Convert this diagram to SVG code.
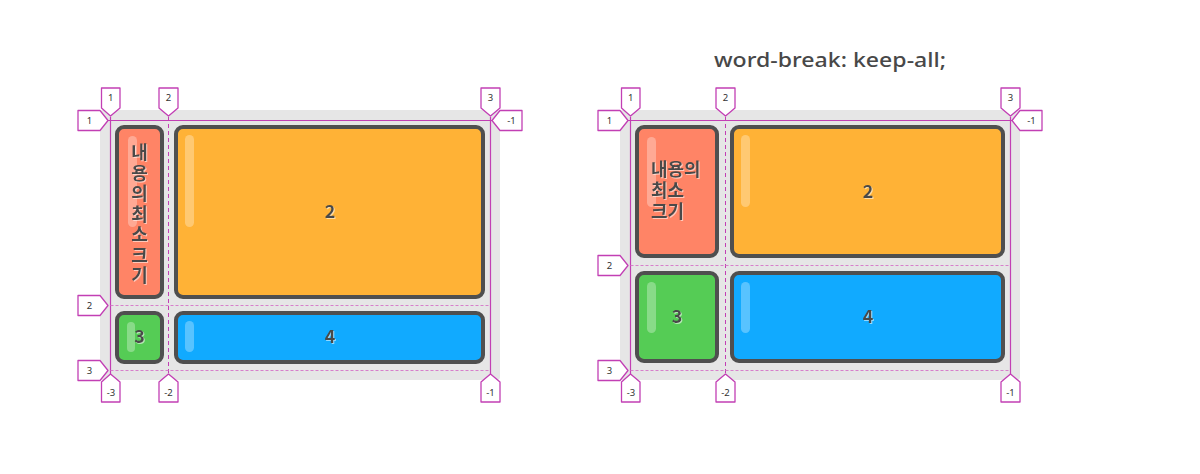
<svg xmlns="http://www.w3.org/2000/svg" width="1200" height="474" viewBox="0 0 1200 474">
<style>
.bg{fill:#e6e6e6}
.item{stroke:#4f4f4f;stroke-width:4}
.c1{fill:#ff8466}.c2{fill:#ffb236}.c3{fill:#55cc55}.c4{fill:#11aaff}
.bar{fill:#ffffff;opacity:0.3}
.solid{stroke:#c23fb4;stroke-width:1.2;fill:none}
.vdash{stroke:#c23fb4;stroke-width:1;stroke-dasharray:4 3;fill:none}
.hdash{stroke:#d77fcb;stroke-width:1;stroke-dasharray:3 2;fill:none}
.tag{fill:#ffffff;stroke:#c23fb4;stroke-width:1.3;stroke-linejoin:round}
.tt{font-family:"Noto Sans","DejaVu Sans",sans-serif;font-size:9.5px;fill:#333;text-anchor:middle}
.lbl{font-family:"Noto Sans CJK KR","Noto Sans",sans-serif;font-weight:700;font-size:18px;fill:#4a4a4a;filter:url(#sh)}
.num{text-anchor:middle}
.title{font-family:"Noto Sans","Noto Sans CJK KR",sans-serif;font-weight:500;font-size:19px;fill:#484848}
</style>
<defs>
<filter id="sh" x="-20%" y="-20%" width="140%" height="140%">
<feDropShadow dx="1" dy="1" stdDeviation="0.3" flood-color="#ffffff" flood-opacity="0.55"/>
</filter>
</defs>

<text class="title" x="714" y="67" textLength="232" lengthAdjust="spacingAndGlyphs">word-break: keep-all;</text>

<!-- Left diagram -->
<g id="left-grid">
<rect class="bg" x="100" y="110" width="400" height="270" rx="3"/>
<g id="left-item1">
<rect class="item c1" x="117" y="127" width="45" height="170" rx="7"/>
<rect class="bar" x="128" y="136" width="9" height="91" rx="4.5"/>
<text class="lbl num" x="139.5"><tspan x="139.5" y="159">내</tspan><tspan x="139.5" y="179.5">용</tspan><tspan x="139.5" y="200">의</tspan><tspan x="139.5" y="220.5">최</tspan><tspan x="139.5" y="241">소</tspan><tspan x="139.5" y="261.5">크</tspan><tspan x="139.5" y="282">기</tspan></text>
</g>
<g id="left-item2">
<rect class="item c2" x="176" y="127" width="307" height="170" rx="7"/>
<rect class="bar" x="185" y="135" width="9" height="92" rx="4.5"/>
<text class="lbl num" x="330" y="218">2</text>
</g>
<g id="left-item3">
<rect class="item c3" x="117" y="313" width="45" height="49" rx="7"/>
<rect class="bar" x="127" y="322" width="8" height="30" rx="4"/>
<text class="lbl num" x="139.5" y="343">3</text>
</g>
<g id="left-item4">
<rect class="item c4" x="176" y="313" width="307" height="49" rx="7"/>
<rect class="bar" x="185" y="321" width="9" height="31" rx="4.5"/>
<text class="lbl num" x="330" y="343">4</text>
</g>
</g>

<!-- Right diagram -->
<g id="right-grid">
<rect class="bg" x="620" y="110" width="400" height="270" rx="3"/>
<g id="right-item1">
<rect class="item c1" x="637" y="127" width="80" height="129" rx="7"/>
<rect class="bar" x="647" y="137" width="9" height="70" rx="4.5"/>
<text class="lbl" x="651"><tspan x="651" y="176">내용의</tspan><tspan x="651" y="197">최소</tspan><tspan x="651" y="218">크기</tspan></text>
</g>
<g id="right-item2">
<rect class="item c2" x="732" y="127" width="271" height="129" rx="7"/>
<rect class="bar" x="741" y="135" width="9" height="72" rx="4.5"/>
<text class="lbl num" x="868" y="198">2</text>
</g>
<g id="right-item3">
<rect class="item c3" x="637" y="273" width="80" height="88" rx="7"/>
<rect class="bar" x="647" y="282" width="9" height="51" rx="4.5"/>
<text class="lbl num" x="677" y="323">3</text>
</g>
<g id="right-item4">
<rect class="item c4" x="732" y="273" width="271" height="88" rx="7"/>
<rect class="bar" x="741" y="282" width="9" height="51" rx="4.5"/>
<text class="lbl num" x="868" y="323">4</text>
</g>
</g>

<!-- Grid lines (connectors) -->
<g id="connectors">
<path class="solid" d="M110.5,117 V374 M108,120.5 H493 M490.5,117 V374"/>
<path class="vdash" d="M168.5,117 V374"/>
<path class="hdash" d="M110.5,305.5 H490.5 M110.5,370.5 H490.5"/>
<path class="solid" d="M630.5,117 V374 M628,120.5 H1013 M1010.5,117 V374"/>
<path class="vdash" d="M725.5,117 V374"/>
<path class="hdash" d="M630.5,265.5 H1010.5 M630.5,370.5 H1010.5"/>
</g>

<!-- Left tags -->
<g id="left-tags">
<g id="lt-top1"><path class="tag" d="M101.5,88 H120 V108 L110.5,116 L101.5,108 Z"/><text class="tt" x="110.8" y="101">1</text></g>
<g id="lt-top2"><path class="tag" d="M159,88 H178 V108 L168.5,116 L159,108 Z"/><text class="tt" x="168.5" y="101">2</text></g>
<g id="lt-top3"><path class="tag" d="M481,88 H500 V108 L490.5,116 L481,108 Z"/><text class="tt" x="490.5" y="101">3</text></g>
<g id="lt-right1"><path class="tag" d="M522,110.5 H500 L492,120.5 L500,130.5 H522 Z"/><text class="tt" x="511.5" y="124">-1</text></g>
<g id="lt-left1"><path class="tag" d="M78,110.5 H100 L108,120.5 L100,130.5 H78 Z"/><text class="tt" x="89.5" y="124">1</text></g>
<g id="lt-left2"><path class="tag" d="M78,295.5 H100 L108,305.5 L100,315.5 H78 Z"/><text class="tt" x="89.5" y="309">2</text></g>
<g id="lt-left3"><path class="tag" d="M78,360.5 H100 L108,370.5 L100,380.5 H78 Z"/><text class="tt" x="89.5" y="374">3</text></g>
<g id="lt-bot3"><path class="tag" d="M110.5,374 L120,382 V402 H101.5 V382 Z"/><text class="tt" x="111" y="395.5">-3</text></g>
<g id="lt-bot2"><path class="tag" d="M168.5,374 L178,382 V402 H159 V382 Z"/><text class="tt" x="168.5" y="395.5">-2</text></g>
<g id="lt-bot1"><path class="tag" d="M490.5,374 L500,382 V402 H481 V382 Z"/><text class="tt" x="490.5" y="395.5">-1</text></g>
</g>

<!-- Right tags -->
<g id="right-tags">
<g id="rt-top1"><path class="tag" d="M621.5,88 H640 V108 L630.5,116 L621.5,108 Z"/><text class="tt" x="630.8" y="101">1</text></g>
<g id="rt-top2"><path class="tag" d="M716,88 H735 V108 L725.5,116 L716,108 Z"/><text class="tt" x="725.5" y="101">2</text></g>
<g id="rt-top3"><path class="tag" d="M1001,88 H1020 V108 L1010.5,116 L1001,108 Z"/><text class="tt" x="1010.5" y="101">3</text></g>
<g id="rt-right1"><path class="tag" d="M1042,110.5 H1020 L1012,120.5 L1020,130.5 H1042 Z"/><text class="tt" x="1031.5" y="124">-1</text></g>
<g id="rt-left1"><path class="tag" d="M598,110.5 H620 L628,120.5 L620,130.5 H598 Z"/><text class="tt" x="609.5" y="124">1</text></g>
<g id="rt-left2"><path class="tag" d="M598,255.5 H620 L628,265.5 L620,275.5 H598 Z"/><text class="tt" x="609.5" y="269">2</text></g>
<g id="rt-left3"><path class="tag" d="M598,360.5 H620 L628,370.5 L620,380.5 H598 Z"/><text class="tt" x="609.5" y="374">3</text></g>
<g id="rt-bot3"><path class="tag" d="M630.5,374 L640,382 V402 H621.5 V382 Z"/><text class="tt" x="631" y="395.5">-3</text></g>
<g id="rt-bot2"><path class="tag" d="M725.5,374 L735,382 V402 H716 V382 Z"/><text class="tt" x="725.5" y="395.5">-2</text></g>
<g id="rt-bot1"><path class="tag" d="M1010.5,374 L1020,382 V402 H1001 V382 Z"/><text class="tt" x="1010.5" y="395.5">-1</text></g>
</g>
</svg>
